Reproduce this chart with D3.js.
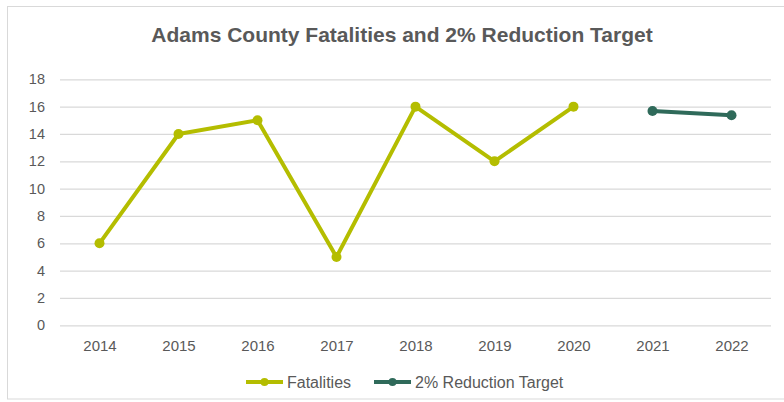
<!DOCTYPE html>
<html><head><meta charset="utf-8">
<script src="https://cdn.jsdelivr.net/npm/d3@7/dist/d3.min.js"></script>
<style>body{margin:0;background:#fff}</style>
</head><body>
<svg id="c" width="784" height="402"></svg>
<script>
const years = ["2014","2015","2016","2017","2018","2019","2020","2021","2022"];
const fatalities = [6,14,15,5,16,12,16,null,null];
const target = [null,null,null,null,null,null,null,15.68,15.37];
const yTicks = [0,2,4,6,8,10,12,14,16,18];
const title = "Adams County Fatalities and 2% Reduction Target";
const seriesNames = ["Fatalities","2% Reduction Target"];

const colFat = "#b4bd00", colTar = "#2f6a5a", textCol = "#595959";
const font = "Liberation Sans, Arial, sans-serif";
const svg = d3.select("#c");
svg.append("rect").attr("x",7.5).attr("y",6.5).attr("width",790).attr("height",392.5)
  .attr("fill","#fff").attr("stroke","#d9d9d9");

const x = d3.scalePoint().domain(years).range([60,771]).padding(0.5);
const y = d3.scaleLinear().domain([0,18]).range([325.3,79.3]);

svg.append("text").attr("x",402).attr("y",42).attr("text-anchor","middle")
  .attr("font-family",font).attr("font-weight","bold")
  .attr("font-size",21).attr("fill",textCol).text(title);

const yAxis = d3.axisLeft(y).tickValues(yTicks).tickSize(-711).tickPadding(15);
const gy = svg.append("g").attr("transform","translate(60,0)").call(yAxis);
gy.select(".domain").remove();
gy.selectAll(".tick line").attr("stroke","#d9d9d9").attr("stroke-width",1.3);
gy.selectAll(".tick text").attr("fill",textCol).attr("font-size",14.5).attr("font-family",font);

const xAxis = d3.axisBottom(x).tickSize(0).tickPadding(15);
const gx = svg.append("g").attr("transform","translate(0,325.3)").call(xAxis);
gx.select(".domain").remove();
gx.selectAll(".tick text").attr("fill",textCol).attr("font-size",15).attr("font-family",font);

function drawSeries(vals,color){
  const pts = years.map((yr,i)=>({yr,v:vals[i]})).filter(d=>d.v!=null);
  svg.append("path").datum(pts).attr("fill","none").attr("stroke",color)
    .attr("stroke-width",4).attr("stroke-linejoin","round")
    .attr("d",d3.line().x(d=>x(d.yr)).y(d=>y(d.v)));
  svg.selectAll(null).data(pts).enter().append("circle")
    .attr("cx",d=>x(d.yr)).attr("cy",d=>y(d.v)).attr("r",5).attr("fill",color);
}
drawSeries(fatalities,colFat);
drawSeries(target,colTar);

const legend = [{name:seriesNames[0],c:colFat,x0:246},{name:seriesNames[1],c:colTar,x0:374}];
legend.forEach(l=>{
  svg.append("line").attr("x1",l.x0).attr("x2",l.x0+37).attr("y1",382).attr("y2",382)
    .attr("stroke",l.c).attr("stroke-width",4);
  svg.append("circle").attr("cx",l.x0+18.5).attr("cy",382).attr("r",4).attr("fill",l.c);
  svg.append("text").attr("x",l.x0+41).attr("y",387.5).attr("fill",textCol)
    .attr("font-size",16).attr("font-family",font).text(l.name);
});
</script>
</body></html>
